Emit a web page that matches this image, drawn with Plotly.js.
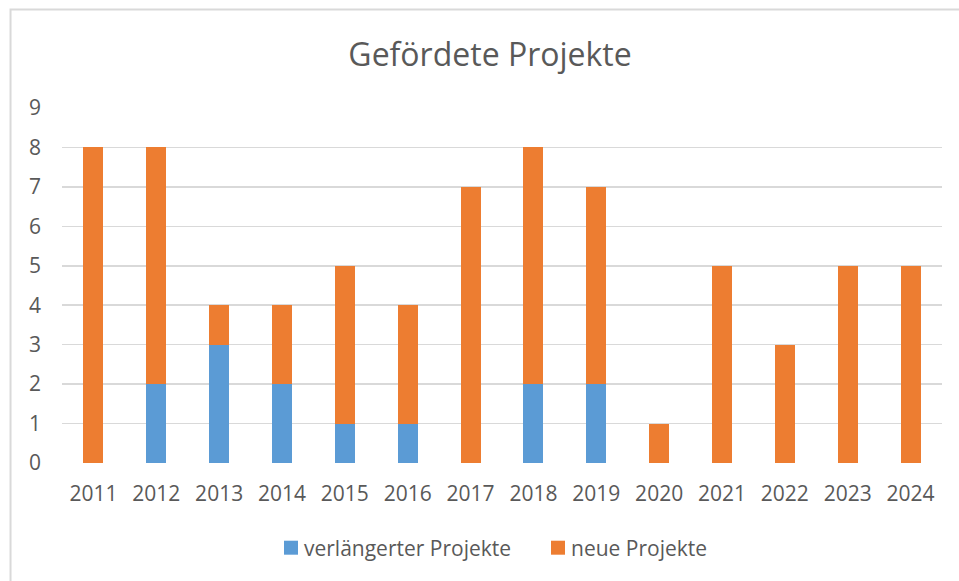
<!DOCTYPE html>
<html>
<head>
<meta charset="utf-8">
<script src="https://cdn.plot.ly/plotly-3.0.1.min.js"></script>
<style>html,body{margin:0;padding:0;background:#fff;}#chart{width:959px;height:581px;}</style>
</head>
<body>
<div id="chart"></div>
<script>
const years = ["2011","2012","2013","2014","2015","2016","2017","2018","2019","2020","2021","2022","2023","2024"];
const seriesNames = ["verlängerter Projekte", "neue Projekte"];
const verlaengert = [0,2,3,2,1,1,0,2,2,0,0,0,0,0];
const neu = [8,6,1,2,4,3,7,6,5,1,5,3,5,5];
const tickVals = [0,1,2,3,4,5,6,7,8,9];

const font = "Open Sans, Liberation Sans, sans-serif";
const txt = "#595959";
const colors = ["#5B9BD5", "#ED7D31"];

const data = [
  {type:"bar", name:seriesNames[0], x:years, y:verlaengert, marker:{color:colors[0]}, hoverinfo:"y", showlegend:false},
  {type:"bar", name:seriesNames[1], x:years, y:neu, marker:{color:colors[1]}, hoverinfo:"y", showlegend:false}
];

// custom legend (square swatch right next to text, like the original)
const legX = [[0.2523, 0.2682], [0.5557, 0.5716]];
const legShapes = seriesNames.map((n, i) => ({
  type:"rect", xref:"paper", yref:"paper", x0:legX[i][0], x1:legX[i][1], y0:-0.2583, y1:-0.2189,
  line:{width:0}, fillcolor:colors[i]
}));
const legAnn = seriesNames.map((n, i) => ({
  xref:"paper", yref:"paper", x:legX[i][1] + 0.004, y:-0.2386, xanchor:"left", yanchor:"middle",
  text:n, showarrow:false, font:{family:font, size:21, color:txt}
}));

const layout = {
  width:959, height:581,
  margin:{l:62, r:17, t:108, b:118},
  paper_bgcolor:"#fff", plot_bgcolor:"#fff",
  barmode:"stack", bargap:0.68,
  font:{family:font, color:txt, size:21},
  title:{text:"Gefördete Projekte", font:{family:font, size:32, color:txt}, x:0.511, xanchor:"center", y:0.905, yanchor:"middle"},
  xaxis:{type:"category", showgrid:false, zeroline:false, showline:false, ticks:"", tickfont:{size:21, color:txt}, ticklabelstandoff:16},
  yaxis:{range:[0,9], tickvals:tickVals, showgrid:true, gridcolor:"#D9D9D9", gridwidth:1.5, zeroline:false, showline:false, ticks:"", tickfont:{size:21, color:txt}, ticklabelstandoff:20},
  showlegend:false,
  annotations:legAnn,
  shapes:[{type:"rect", xref:"paper", yref:"paper", x0:-0.0585, x1:1.2, y0:-0.5, y1:1.2775, line:{color:"#D9D9D9", width:2}, fillcolor:"rgba(0,0,0,0)", layer:"below"}].concat(legShapes)
};

Plotly.newPlot("chart", data, layout, {displayModeBar:false, staticPlot:true});
</script>
</body>
</html>
